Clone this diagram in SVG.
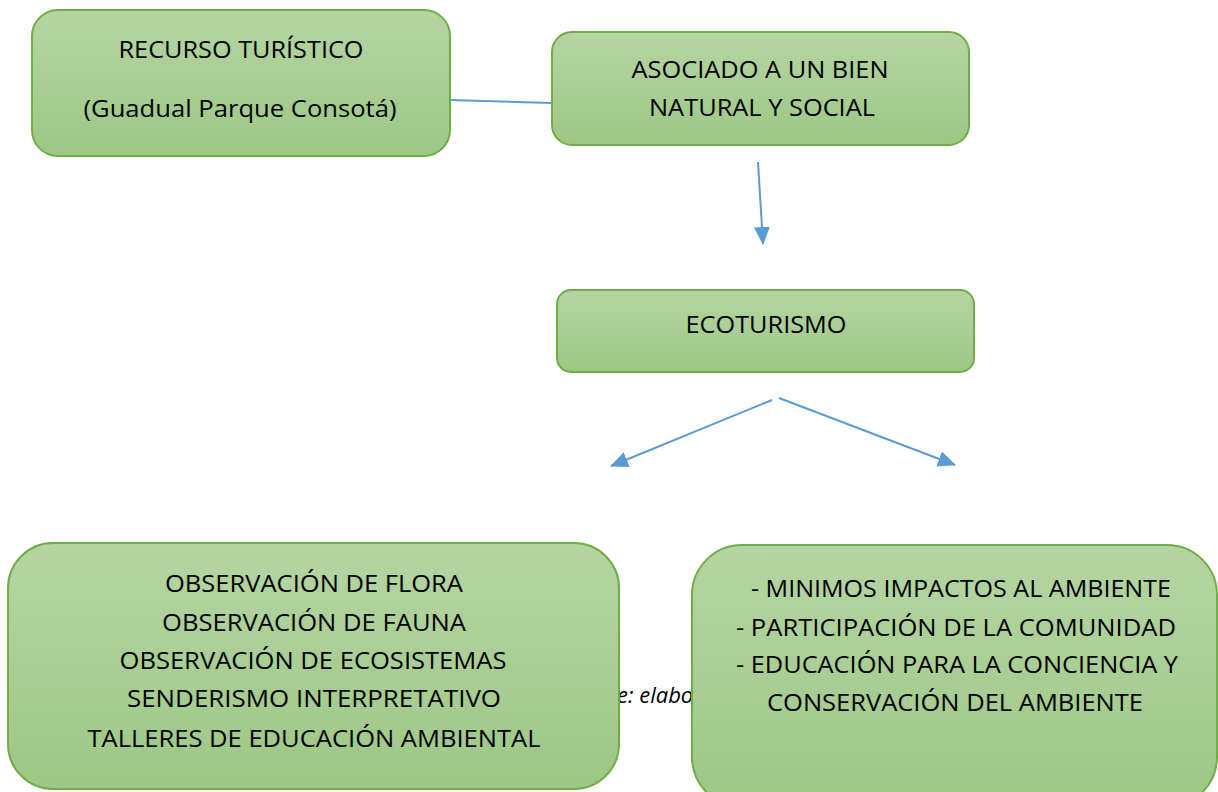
<svg xmlns="http://www.w3.org/2000/svg" width="1218" height="792" viewBox="0 0 1218 792">
<style>
.box{fill:url(#g);stroke:#70ad47;stroke-width:2}
.t{font-family:"Open Sans","Liberation Sans",sans-serif;font-size:24px;fill:#000;text-anchor:middle}
.c{stroke:#5b9bd5;stroke-width:2;fill:none}
.note{font-family:"Open Sans","Liberation Sans",sans-serif;font-size:22px;font-style:italic;fill:#000}
</style>
<defs>
<linearGradient id="g" x1="0" y1="0" x2="0" y2="1">
<stop offset="0" stop-color="#b5d5a3"/>
<stop offset="1" stop-color="#9dc785"/>
</linearGradient>
<marker id="ah" markerUnits="userSpaceOnUse" markerWidth="18" markerHeight="16" refX="17" refY="8" orient="auto">
<path d="M0,0 L18,8 L0,16 Z" fill="#5b9bd5"/>
</marker>
</defs>
<rect width="1218" height="792" fill="#fff"/>
<text class="note" x="617" y="703">e: elabo</text>
<g id="connectors">
<line class="c" x1="450" y1="100" x2="552" y2="103"/>
<line class="c" x1="758" y1="162" x2="763" y2="244" marker-end="url(#ah)"/>
<line class="c" x1="772" y1="400" x2="611" y2="466" marker-end="url(#ah)"/>
<line class="c" x1="779" y1="398" x2="955" y2="465" marker-end="url(#ah)"/>
</g>
<g id="recurso">
<rect class="box" x="32" y="10" width="418" height="146" rx="26"/>
<text class="t" x="241" y="58" textLength="245" lengthAdjust="spacingAndGlyphs">RECURSO TURÍSTICO</text>
<text class="t" x="240" y="117" textLength="313" lengthAdjust="spacingAndGlyphs">(Guadual Parque Consotá)</text>
</g>
<g id="asociado">
<rect class="box" x="552" y="32" width="417" height="113" rx="20"/>
<text class="t" x="760" y="78" textLength="257" lengthAdjust="spacingAndGlyphs">ASOCIADO A UN BIEN</text>
<text class="t" x="762" y="116" textLength="226" lengthAdjust="spacingAndGlyphs">NATURAL Y SOCIAL</text>
</g>
<g id="ecoturismo">
<rect class="box" x="557" y="290" width="417" height="82" rx="14"/>
<text class="t" x="766" y="333" textLength="161" lengthAdjust="spacingAndGlyphs">ECOTURISMO</text>
</g>
<g id="actividades">
<rect class="box" x="8" y="543" width="611" height="246" rx="45"/>
<text class="t" x="314" y="592" textLength="298" lengthAdjust="spacingAndGlyphs">OBSERVACIÓN DE FLORA</text>
<text class="t" x="314" y="631" textLength="304" lengthAdjust="spacingAndGlyphs">OBSERVACIÓN DE FAUNA</text>
<text class="t" x="313" y="669" textLength="387" lengthAdjust="spacingAndGlyphs">OBSERVACIÓN DE ECOSISTEMAS</text>
<text class="t" x="314" y="707" textLength="374" lengthAdjust="spacingAndGlyphs">SENDERISMO INTERPRETATIVO</text>
<text class="t" x="314" y="747" textLength="453" lengthAdjust="spacingAndGlyphs">TALLERES DE EDUCACIÓN AMBIENTAL</text>
</g>
<g id="principios">
<rect class="box" x="692" y="545" width="525" height="262" rx="50"/>
<text class="t" x="961" y="597" textLength="420" lengthAdjust="spacingAndGlyphs">- MINIMOS IMPACTOS AL AMBIENTE</text>
<text class="t" x="956" y="636" textLength="440" lengthAdjust="spacingAndGlyphs">- PARTICIPACIÓN DE LA COMUNIDAD</text>
<text class="t" x="957" y="673" textLength="442" lengthAdjust="spacingAndGlyphs">- EDUCACIÓN PARA LA CONCIENCIA Y</text>
<text class="t" x="955" y="711" textLength="376" lengthAdjust="spacingAndGlyphs">CONSERVACIÓN DEL AMBIENTE</text>
</g>
</svg>
